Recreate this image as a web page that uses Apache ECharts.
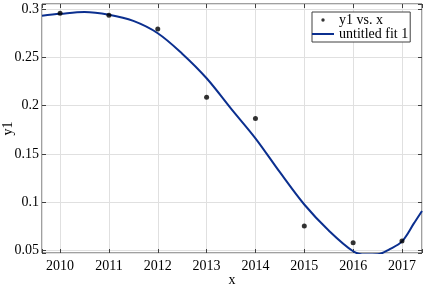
<!DOCTYPE html>
<html>
<head>
<meta charset="utf-8">
<script src="https://cdn.jsdelivr.net/npm/echarts@6/dist/echarts.min.js"></script>
<style>html,body{margin:0;padding:0;background:#fff}#c{width:425px;height:287px}</style>
</head>
<body>
<div id="c"></div>
<script>
const pointX = [2010, 2011, 2012, 2013, 2014, 2015, 2016, 2017];
const pointY = [0.296, 0.2938, 0.2795, 0.2088, 0.1866, 0.0752, 0.0578, 0.0596];
const fitX = [2009.63, 2010, 2010.5, 2011, 2011.5, 2012, 2012.5, 2013, 2013.5, 2014, 2014.5, 2015, 2015.5, 2016, 2016.25, 2016.5, 2016.75, 2017, 2017.25, 2017.41];
const fitY = [0.2934, 0.2953, 0.2972, 0.2944, 0.2880, 0.2752, 0.2540, 0.2285, 0.1970, 0.1662, 0.1310, 0.0975, 0.0705, 0.0490, 0.0456, 0.0458, 0.0512, 0.0592, 0.0784, 0.0908];
const xRange = [2009.63, 2017.41];
const yRange = [0.0472, 0.3055];
const seriesNames = ['y1 vs. x', 'untitled fit 1'];
const axisNames = ['x', 'y1'];

const FONT = '"Liberation Serif", "Times New Roman", serif';
const AX = '#404040';
const isTick = (v, step) => Math.abs(v / step - Math.round(v / step)) < 1e-6;

const chart = echarts.init(document.getElementById('c'), null, {renderer: 'canvas'});
const baseX = {
  type: 'value', min: xRange[0], max: xRange[1], splitNumber: 8,
  axisLine: {show: false},
  axisTick: {show: true, inside: true, length: 4, lineStyle: {color: AX}},
};
const baseY = {
  type: 'value', min: yRange[0], max: yRange[1], splitNumber: 5,
  axisLine: {show: false},
  axisTick: {show: true, inside: true, length: 4, lineStyle: {color: AX}},
};
chart.setOption({
  animation: false,
  backgroundColor: '#fff',
  grid: {left: 42, right: 3, top: 4, bottom: 34, containLabel: false, outerBoundsMode: 'none',
    show: true, borderColor: AX, borderWidth: 1, backgroundColor: '#fff'},
  xAxis: [
    Object.assign({}, baseX, {
      position: 'bottom',
      name: axisNames[0], nameLocation: 'middle', nameGap: 20, nameMoveOverlap: false,
      nameTextStyle: {color: '#000', fontFamily: FONT, fontSize: 14},
      axisLabel: {color: '#000', fontFamily: FONT, fontSize: 14, margin: 6,
        formatter: v => isTick(v, 1) ? String(Math.round(v)) : ''},
      splitLine: {show: true, lineStyle: {color: '#e0e0e0', width: 1}}
    }),
    Object.assign({}, baseX, {position: 'top', axisLabel: {show: false}, splitLine: {show: false}})
  ],
  yAxis: [
    Object.assign({}, baseY, {
      position: 'left',
      name: axisNames[1], nameLocation: 'middle', nameGap: 27, nameRotate: 90, nameMoveOverlap: false,
      nameTextStyle: {color: '#000', fontFamily: FONT, fontSize: 14},
      axisLabel: {color: '#000', fontFamily: FONT, fontSize: 14, margin: 3,
        formatter: v => isTick(v, 0.05) ? String(+v.toFixed(2)) : ''},
      splitLine: {show: true, lineStyle: {color: '#e0e0e0', width: 1}}
    }),
    Object.assign({}, baseY, {position: 'right', axisLabel: {show: false}, splitLine: {show: false}})
  ],
  legend: {
    left: 312, top: 12, orient: 'vertical',
    itemWidth: 22, itemHeight: 12, itemGap: 0,
    padding: [1, 2, 1, 0],
    borderColor: AX, borderWidth: 1, backgroundColor: '#fff',
    textStyle: {color: '#000', fontFamily: FONT, fontSize: 14, lineHeight: 12},
    data: [
      {name: seriesNames[0], icon: 'path://M0,0M22,12M9.3,6a1.7,1.7 0 1,0 3.4,0a1.7,1.7 0 1,0 -3.4,0', itemStyle: {color: '#000'}},
      {name: seriesNames[1], icon: 'path://M0,0M22,12M0,5h22v2h-22z', itemStyle: {color: '#0b2f8f'}}
    ]
  },
  series: [
    {
      name: seriesNames[0], type: 'scatter', symbol: 'circle', symbolSize: 5,
      itemStyle: {color: '#000'}, z: 5,
      data: pointX.map((x, i) => [x, pointY[i]])
    },
    {
      name: seriesNames[1], type: 'line', symbol: 'none', smooth: 0.35, clip: true,
      lineStyle: {color: '#0b2f8f', width: 2},
      itemStyle: {color: '#0b2f8f'},
      data: fitX.map((x, i) => [x, fitY[i]])
    }
  ]
});
</script>
</body>
</html>
